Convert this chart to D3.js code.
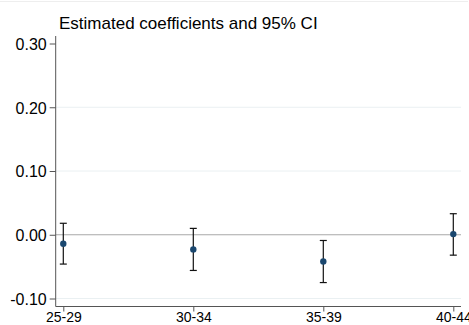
<!DOCTYPE html>
<html>
<head>
<meta charset="utf-8">
<script src="https://cdn.jsdelivr.net/npm/d3@7"></script>
<style>
  body { margin: 0; background: #fff; }
  text { font-family: Arial, "Liberation Sans", sans-serif; }
</style>
</head>
<body>
<div id="chart"></div>
<script>
// age groups and estimates
var groups = ["25-29", "30-34", "35-39", "40-44"];
var coef = [-0.014, -0.023, -0.042, 0.001];
var ciLow = [-0.046, -0.056, -0.075, -0.032];
var ciHigh = [0.018, 0.010, -0.009, 0.033];
var yTicks = [-0.10, 0.00, 0.10, 0.20, 0.30];

var width = 469, height = 325;

var svg = d3.select("#chart")
    .append("svg")
    .attr("width", width)
    .attr("height", height);

// faint frame line at the top
svg.append("line")
    .attr("x1", 0).attr("x2", 468)
    .attr("y1", 1.5).attr("y2", 1.5)
    .attr("stroke", "#eeeeee")
    .attr("stroke-width", 1);

var x = d3.scaleLinear().domain([0, 3]).range([63.3, 453.3]);
var y = d3.scaleLinear().domain([-0.10, 0.30]).range([298.5, 43.5]);

var plotLeft = 55.7, plotRight = 461, plotBottom = 306.5, plotTop = 36;

// gridlines
svg.selectAll(".grid")
    .data(yTicks.filter(function(d) { return d !== 0 && d !== 0.30; }))
    .enter().append("line")
    .attr("x1", plotLeft).attr("x2", plotRight)
    .attr("y1", function(d) { return y(d); })
    .attr("y2", function(d) { return y(d); })
    .attr("stroke", "#eaf0f2")
    .attr("stroke-width", 1);

// zero line
svg.append("line")
    .attr("x1", plotLeft).attr("x2", plotRight)
    .attr("y1", y(0)).attr("y2", y(0))
    .attr("stroke", "#a8a8a8")
    .attr("stroke-width", 1);

// y axis
var yAxis = d3.axisLeft(y)
    .tickValues(yTicks)
    .tickSize(6)
    .tickFormat(d3.format(".2f"));
var gy = svg.append("g")
    .attr("transform", "translate(" + plotLeft + ",0)")
    .call(yAxis);
gy.select(".domain").remove();
gy.append("line")
    .attr("x1", 0).attr("x2", 0)
    .attr("y1", plotTop).attr("y2", plotBottom)
    .attr("stroke", "#555");
gy.selectAll(".tick line").attr("stroke", "#555");
gy.selectAll(".tick text")
    .attr("x", -9)
    .attr("dy", "0.36em")
    .style("font-size", "16px")
    .attr("fill", "#000")
    .text(function(d) { return d3.format(".2f")(d).replace("−", "-"); });

// x axis
var xAxis = d3.axisBottom(x)
    .tickValues([0, 1, 2, 3])
    .tickSize(5)
    .tickFormat(function(i) { return groups[i]; });
var gx = svg.append("g")
    .attr("transform", "translate(0," + plotBottom + ")")
    .call(xAxis);
gx.select(".domain").remove();
gx.append("line")
    .attr("x1", plotLeft).attr("x2", plotRight)
    .attr("y1", 0).attr("y2", 0)
    .attr("stroke", "#555");
gx.selectAll(".tick line").attr("stroke", "#555");
gx.selectAll(".tick text")
    .attr("y", 6)
    .style("font-size", "14px")
    .attr("fill", "#000");

// confidence intervals
var bars = svg.append("g");
groups.forEach(function(g, i) {
    var cx = x(i);
    bars.append("line")
        .attr("x1", cx).attr("x2", cx)
        .attr("y1", y(ciLow[i])).attr("y2", y(ciHigh[i]))
        .attr("stroke", "#111").attr("stroke-width", 1.2);
    [ciLow[i], ciHigh[i]].forEach(function(v) {
        bars.append("line")
            .attr("x1", cx - 3.5).attr("x2", cx + 3.5)
            .attr("y1", y(v)).attr("y2", y(v))
            .attr("stroke", "#111").attr("stroke-width", 1.2);
    });
});

// point estimates
svg.selectAll(".pt")
    .data(coef)
    .enter().append("circle")
    .attr("cx", function(d, i) { return x(i); })
    .attr("cy", function(d) { return y(d); })
    .attr("r", 3.2)
    .attr("fill", "#1a476f");

// title
svg.append("text")
    .attr("x", 59)
    .attr("y", 28.5)
    .style("font-size", "17px")
    .attr("fill", "#000")
    .text("Estimated coefficients and 95% CI");
</script>
</body>
</html>
